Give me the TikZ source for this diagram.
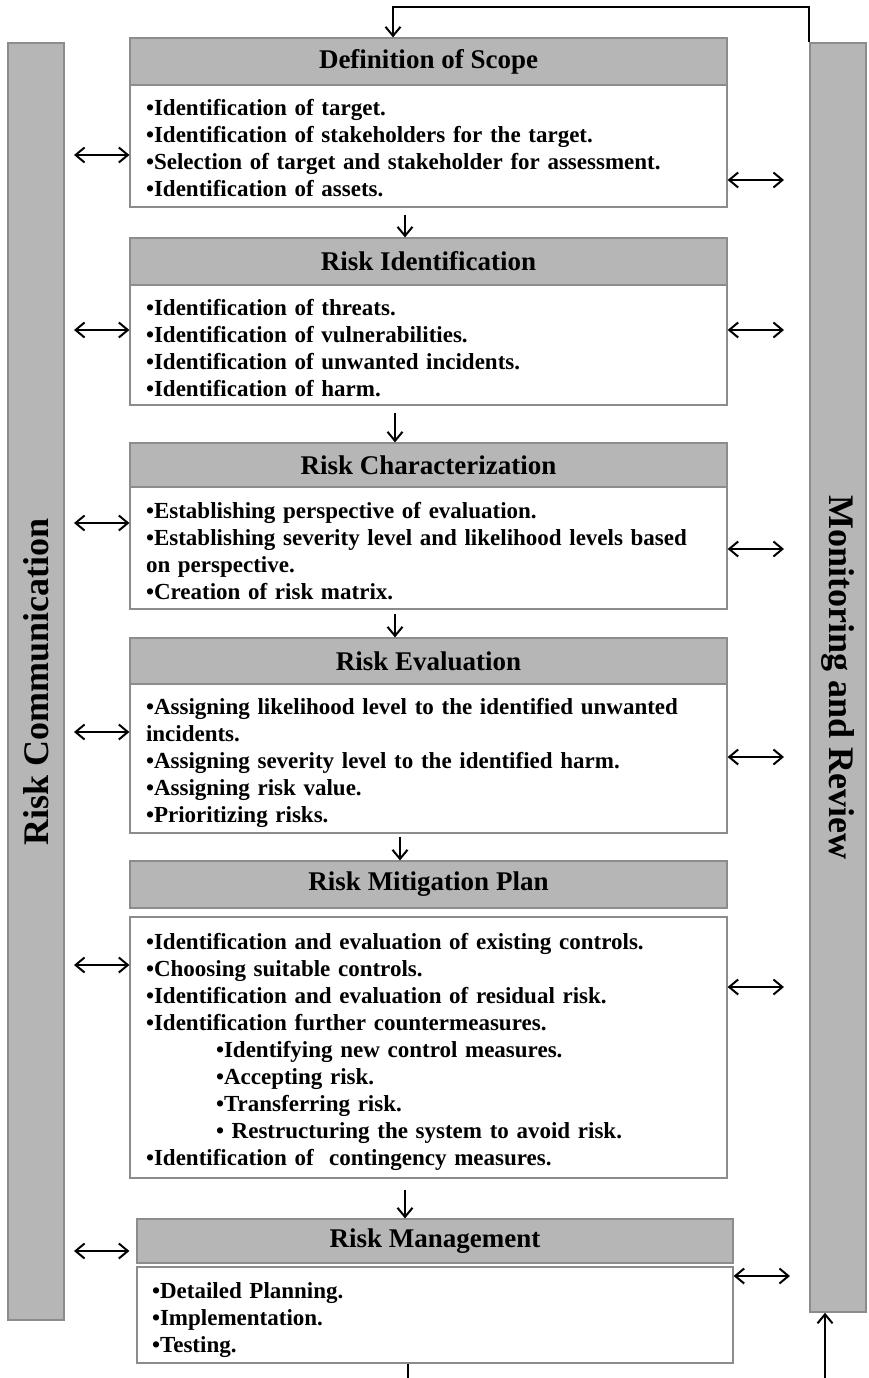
\documentclass[tikz,border=0pt]{standalone}
\usepackage{fontspec}
\setmainfont{Liberation Serif}
\usetikzlibrary{arrows.meta,calc}
\definecolor{hdrgray}{RGB}{182,182,182}
\definecolor{edgegray}{RGB}{140,140,140}
\newcommand{\mytopstrut}{\rule{0pt}{26pt}}
\newcommand{\mybotstrut}{\rule[-5pt]{0pt}{5pt}}
\begin{document}
\begin{tikzpicture}[x=1pt,y=-1pt,
  hdr/.style={draw=edgegray, line width=1.2pt, fill=hdrgray, minimum width=597pt, inner sep=0pt, font=\fontsize{27}{30}\selectfont\bfseries},
  bodybox/.style={draw=edgegray, line width=1.2pt, fill=white, text width=565pt, inner xsep=16pt, inner ysep=0pt, align=left, font=\fontsize{23}{27}\selectfont\bfseries},
  sidebar/.style={draw=edgegray, line width=1.5pt, fill=hdrgray, minimum width=56pt, inner sep=0pt, font=\fontsize{36}{40}\selectfont\bfseries},
  arr/.style={line width=2pt, -{Straight Barb[length=9pt,width=15pt]}},
  dbl/.style={line width=2pt, {Straight Barb[length=9pt,width=15pt]}-{Straight Barb[length=9pt,width=15pt]}},
  plainline/.style={line width=2pt}]
\useasboundingbox (0,0) rectangle (868,1378);

% side bars
\node[sidebar, minimum height=1277pt] (rc) at (36,681.5) {\rotatebox{90}{Risk Communication}};
\node[sidebar, minimum height=1269pt] (mr) at (838,677.5) {\rotatebox{-90}{Monitoring and Review}};

% boxes
\node[hdr, minimum height=47pt] (h1) at (428.5,61.5) {Definition of Scope};
\node[bodybox, minimum height=122pt] (b1) at (428.5,146) {\mytopstrut•Identification of target.\\•Identification of stakeholders for the target.\\•Selection of target and stakeholder for assessment.\\•Identification of assets.\mybotstrut};

\node[hdr, minimum height=47pt] (h2) at (428.5,261.5) {Risk Identification};
\node[bodybox, minimum height=120pt] (b2) at (428.5,345) {\mytopstrut•Identification of threats.\\•Identification of vulnerabilities.\\•Identification of unwanted incidents.\\•Identification of harm.\mybotstrut};

\node[hdr, minimum height=44pt] (h3) at (428.5,465) {Risk Characterization};
\node[bodybox, minimum height=122pt] (b3) at (428.5,548) {\mytopstrut•Establishing perspective of evaluation.\\•Establishing severity level and likelihood levels based\\on perspective.\\•Creation of risk matrix.\mybotstrut};

\node[hdr, minimum height=46pt] (h4) at (428.5,661) {Risk Evaluation};
\node[bodybox, minimum height=149pt] (b4) at (428.5,758.5) {\mytopstrut•Assigning likelihood level to the identified unwanted\\incidents.\\•Assigning severity level to the identified harm.\\•Assigning risk value.\\•Prioritizing risks.\mybotstrut};

\node[hdr, minimum height=47pt] (h5) at (428.5,884.5) {Risk Mitigation Plan};
\node[bodybox, minimum height=261pt] (b5) at (428.5,1047.5) {\mytopstrut•Identification and evaluation of existing controls.\\•Choosing suitable controls.\\•Identification and evaluation of residual risk.\\•Identification further countermeasures.\\\hspace*{70pt}•Identifying new control measures.\\\hspace*{70pt}•Accepting risk.\\\hspace*{70pt}•Transferring risk.\\\hspace*{70pt}• Restructuring the system to avoid risk.\\•Identification of\ \ contingency measures.\mybotstrut};

\node[hdr, minimum width=596pt, minimum height=44pt] (h6) at (435,1241) {Risk Management};
\node[bodybox, text width=566pt, inner xsep=15pt, minimum height=96pt] (b6) at (435,1315) {\mytopstrut•Detailed Planning.\\•Implementation.\\•Testing.\mybotstrut};

% vertical flow arrows
\draw[arr, shorten <=7pt] (b1.south -| 405,0) -- (h2.north -| 405,0);
\draw[arr, shorten <=7pt] (b2.south -| 395,0) -- (h3.north -| 395,0);
\draw[arr, shorten <=4pt] (b3.south -| 395,0) -- (h4.north -| 395,0);
\draw[arr, shorten <=3pt] (b4.south -| 400,0) -- (h5.north -| 400,0);
\draw[arr, shorten <=11pt] (b5.south -| 405,0) -- (h6.north -| 405,0);

% feedback loop
\coordinate (topc) at (393,7);
\draw[arr] (mr.north west) -- (mr.north west |- topc) -- (topc) -- (topc |- h1.north);
\coordinate (botl) at (408,1378);
\draw[plainline] (b6.south -| botl) -- (botl);
\coordinate (botr) at (825,1378);
\draw[arr] (botr) -- (botr |- mr.south);

% communication arrows (left)
\coordinate (L1) at (74,155);
\coordinate (L2) at (74,330);
\coordinate (L3) at (74,523);
\coordinate (L4) at (74,732);
\coordinate (L5) at (74,965);
\coordinate (L6) at (74,1251);
\draw[dbl] (L1) -- (L1 -| b1.west);
\draw[dbl] (L2) -- (L2 -| b2.west);
\draw[dbl] (L3) -- (L3 -| b3.west);
\draw[dbl] (L4) -- (L4 -| b4.west);
\draw[dbl] (L5) -- (L5 -| b5.west);
\draw[dbl, shorten >=7pt] (L6) -- (L6 -| h6.west);

% monitoring arrows (right)
\coordinate (R1) at (784,180);
\coordinate (R2) at (784,330);
\coordinate (R3) at (784,549);
\coordinate (R4) at (784,757);
\coordinate (R5) at (784,987);
\coordinate (R6) at (790,1276);
\draw[dbl] (R1 -| b1.east) -- (R1);
\draw[dbl] (R2 -| b2.east) -- (R2);
\draw[dbl] (R3 -| b3.east) -- (R3);
\draw[dbl] (R4 -| b4.east) -- (R4);
\draw[dbl] (R5 -| b5.east) -- (R5);
\draw[dbl] (R6 -| b6.east) -- (R6);
\end{tikzpicture}
\end{document}
